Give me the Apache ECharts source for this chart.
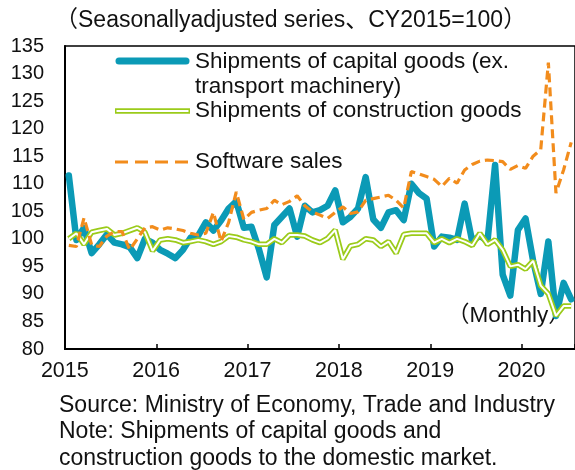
<!DOCTYPE html>
<html>
<head>
<meta charset="utf-8">
<script src="https://cdn.jsdelivr.net/npm/echarts@6/dist/echarts.min.js"></script>
<style>
  html, body { margin: 0; padding: 0; background: #fff; }
  #chart { width: 575px; height: 470px; }
</style>
</head>
<body>
<div id="chart"></div>
<script>
// monthly, Jan 2015 .. Jul 2020
const yearLabels = ['2015', '2016', '2017', '2018', '2019', '2020'];
const months = [];
yearLabels.forEach(y => {
    for (let m = 1; m <= 12; m++) {
        if (y === '2020' && m > 7) break;
        months.push(y + '-' + (m < 10 ? '0' + m : m));
    }
});

const capitalGoods = [
    111.5, 99.8, 102, 97.4, 99, 100.8, 99.3, 99, 98.5, 96.5, 100, 99.3,
    98, 97.3, 96.5, 98, 100.2, 100.6, 103, 101.5, 103.3, 105.5, 106.8, 102,
    102.2, 98, 93, 102.5, 104, 105.5, 100.4, 106, 104.8, 105.2, 106, 108.8,
    103, 104, 105.5, 111.2, 103.5, 102, 104.8, 105.2, 103.4, 110, 108.3, 107.3,
    98.6, 100.4, 100.2, 99.8, 106.4, 99.5, 100.6, 99.5, 113.4, 93.5, 89.7, 101.6,
    103.7, 96, 90, 99.5, 86, 92, 89
];
const constructionGoods = [
    100, 101, 99, 101.2, 101.5, 101.8, 100.7, 101, 101.5, 102, 101.2, 97.8,
    99.8, 100, 99.8, 99.3, 99.5, 99.8, 99.5, 99, 99.5, 100.5, 100.3, 99.8,
    99.5, 99, 99, 100, 99.3, 100.7, 100.7, 100.5, 99.8, 99.3, 100.1, 101.6,
    96.3, 98.7, 99, 100, 99.8, 98.6, 99.5, 97.4, 100.8, 101, 101, 101,
    99.3, 100, 99.3, 100, 99.5, 98.8, 101, 99, 99.8, 98, 95, 95.3,
    94.5, 96, 91.5, 90, 86, 87.8, 87.8
];
const softwareSales = [
    98.8, 98.6, 103.8, 98.9, 98.6, 100.5, 101.3, 101.3, 98, 100, 102, 102.2,
    101.6, 102, 101.8, 101.5, 101, 100.7, 101, 104.8, 99.5, 103, 108.5, 103.5,
    104.8, 105.2, 105.5, 107, 106.2, 106.8, 107.8, 106, 104.9, 104.3, 103.7, 104.8,
    105.8, 104.6, 104.9, 107, 107.3, 107.6, 107.9, 107, 105.6, 112.2, 111.8, 111.3,
    110.8, 109.5, 111, 110.1, 112.5, 113.5, 114.1, 114.3, 114.2, 114, 112.6, 113.3,
    112.8, 115, 116.2, 132, 108.3, 112.5, 117.5
];
const yTicks = { min: 80, max: 135, step: 5 };

const names = {
    capital: 'Shipments of capital goods (ex. transport machinery)',
    construction: 'Shipments of construction goods',
    software: 'Software sales'
};

const colors = {
    blue: '#0B9AB6',
    green: '#9BCB1A',
    orange: '#F28C1C'
};

const font = "'Liberation Sans', Arial, 'Noto Sans CJK JP', sans-serif";

function svgIcon(body, w, h) {
    return 'image://data:image/svg+xml;utf8,<svg xmlns="http://www.w3.org/2000/svg" width="' + w +
        '" height="' + h + '">' + body + '</svg>';
}

const chart = echarts.init(document.getElementById('chart'));

const legendText = { color: '#111', fontSize: 22.5, fontFamily: font, lineHeight: 25 };

const option = {
    animation: false,
    backgroundColor: '#fff',
    grid: {
        left: 65, right: -4, top: 46, bottom: 121,
        show: true, borderColor: '#000', borderWidth: 1.5
    },
    legend: [
        {
            left: 115, top: 49, padding: 0,
            itemWidth: 75, itemHeight: 50,
            textStyle: legendText,
            formatter: () => 'Shipments of capital goods (ex.\ntransport machinery)',
            data: [{
                name: names.capital,
                icon: svgIcon('<line x1="4" y1="12" x2="71" y2="12" stroke="%230B9AB6" stroke-width="7" stroke-linecap="round"/>', 75, 50)
            }]
        },
        {
            left: 115, top: 98.5, padding: 0,
            itemWidth: 75, itemHeight: 10,
            textStyle: legendText,
            data: [{
                name: names.construction,
                icon: svgIcon('<line x1="0" y1="5" x2="75" y2="5" stroke="%239BCB1A" stroke-width="5.5"/>' +
                    '<line x1="1.5" y1="5" x2="73.5" y2="5" stroke="%23ffffff" stroke-width="2"/>', 75, 10)
            }]
        },
        {
            left: 115, top: 149.5, padding: 0,
            itemWidth: 75, itemHeight: 10,
            textStyle: legendText,
            data: [{
                name: names.software,
                icon: svgIcon('<line x1="0" y1="5" x2="75" y2="5" stroke="%23F28C1C" stroke-width="3.2" stroke-dasharray="13,7"/>', 75, 10)
            }]
        }
    ],
    xAxis: {
        type: 'category',
        data: months,
        boundaryGap: true,
        axisLine: { lineStyle: { color: '#000', width: 2 } },
        axisTick: {
            show: true, inside: true, length: 5, interval: 11,
            lineStyle: { color: '#000', width: 1.5 }
        },
        axisLabel: {
            interval: 11,
            margin: 11,
            color: '#111',
            fontSize: 21.5,
            fontFamily: font,
            padding: [0, 8, 0, 0],
            formatter: v => v.slice(0, 4)
        },
        splitLine: { show: false }
    },
    yAxis: {
        type: 'value',
        min: yTicks.min,
        max: yTicks.max,
        interval: yTicks.step,
        axisLine: { show: true, lineStyle: { color: '#000', width: 2 } },
        axisTick: { show: false },
        axisLabel: { color: '#111', fontSize: 20, fontFamily: font, margin: 21 },
        splitLine: { show: false }
    },
    graphic: [
        {
            type: 'text', left: 55, top: 9,
            style: { text: '（Seasonallyadjusted series、CY2015=100）', font: '23px ' + font, fill: '#111' }
        },
        {
            type: 'text', left: 447, top: 305,
            style: { text: '（Monthly）', font: '22.5px ' + font, fill: '#111' }
        },
        {
            type: 'text', left: 59, top: 392,
            style: {
                text: 'Source: Ministry of Economy, Trade and Industry\nNote: Shipments of capital goods and\nconstruction goods to the domestic market.',
                font: '23px ' + font, fill: '#111', lineHeight: 26.5
            }
        }
    ],
    series: [
        {
            name: names.capital,
            type: 'line',
            data: capitalGoods,
            symbol: 'none',
            lineStyle: { color: colors.blue, width: 6.5, join: 'round', cap: 'round' },
            itemStyle: { color: colors.blue },
            z: 2
        },
        {
            name: names.construction,
            type: 'line',
            data: constructionGoods,
            symbol: 'none',
            lineStyle: { color: colors.green, width: 5.5 },
            itemStyle: { color: colors.green },
            z: 3
        },
        {
            name: 'construction-inner',
            type: 'line',
            data: constructionGoods,
            symbol: 'none',
            lineStyle: { color: '#fff', width: 2 },
            itemStyle: { color: '#fff' },
            z: 4
        },
        {
            name: names.software,
            type: 'line',
            data: softwareSales,
            symbol: 'none',
            lineStyle: { color: colors.orange, width: 3.2, type: [9, 5] },
            itemStyle: { color: colors.orange },
            z: 5
        }
    ]
};

chart.setOption(option);
window.addEventListener('resize', () => chart.resize());
</script>
</body>
</html>
